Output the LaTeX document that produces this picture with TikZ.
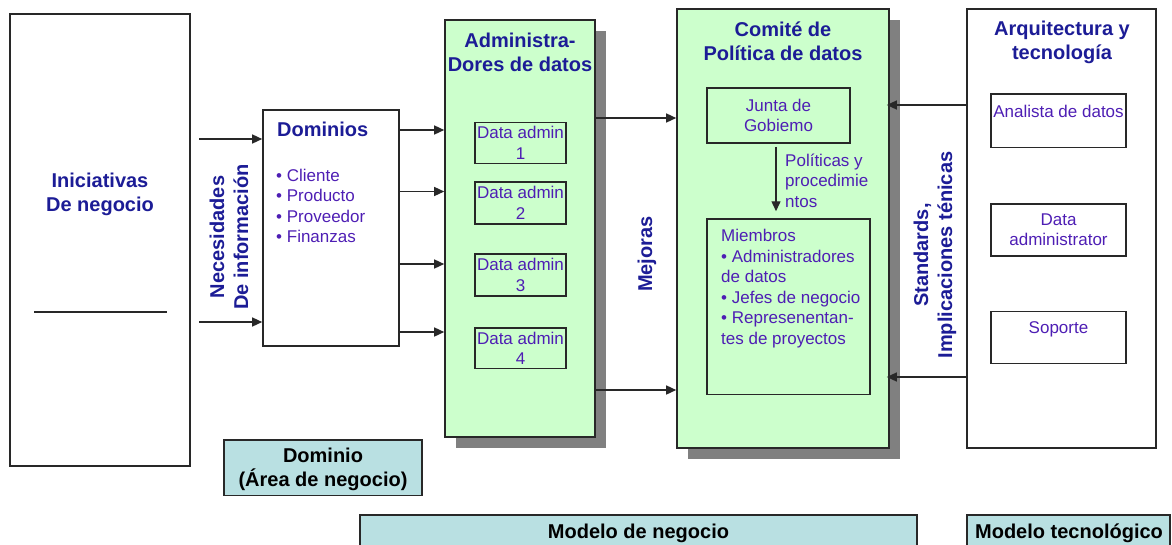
\documentclass[tikz,border=0pt]{standalone}
\usepackage{fontspec}
\setmainfont{Liberation Sans}
\usetikzlibrary{arrows.meta,shadows}
\definecolor{navy}{RGB}{28,28,150}
\definecolor{purp}{RGB}{78,30,180}
\definecolor{bord}{RGB}{40,40,40}
\definecolor{greenf}{RGB}{204,255,204}
\definecolor{shadowgray}{RGB}{128,128,128}
\definecolor{lblue}{RGB}{185,224,226}
\begin{document}
\begin{tikzpicture}[x=1pt,y=-1pt,
  bx/.style={draw=bord, line width=1.6pt, rectangle, inner sep=0pt},
  grn/.style={bx, fill=greenf, drop shadow={shadow xshift=11pt, shadow yshift=-10.5pt, fill=shadowgray, opacity=1}},
  lbl/.style={bx, fill=lblue},
  ttl/.style={font=\fontsize{20}{24}\selectfont\bfseries, text=navy, align=center, inner sep=0pt},
  blk/.style={font=\fontsize{20}{24}\selectfont\bfseries, text=black, align=center, inner sep=0pt},
  txt/.style={font=\fontsize{17}{20.6}\selectfont, text=purp, inner sep=0pt},
  arr/.style={draw=bord, line width=1.4pt, -{Triangle[length=10pt,width=9pt]}}
]
\useasboundingbox (0,0) rectangle (1172,544);

% Iniciativas
\node[bx, minimum width=180pt, minimum height=452pt] (ini) at (100,240) {};
\node[ttl] (initxt) at (100,194) {Iniciativas\\De negocio};
\draw[draw=bord, line width=1.4pt] (34,312) -- (167,312);

% Dominios
\node[bx, minimum width=136pt, minimum height=236pt] (dom) at (331,228) {};
\node[ttl, anchor=west] (domtit) at (277,129.4) {Dominios};
\node[txt, anchor=west, align=left] (domlist) at (276,206) {• Cliente\\• Producto\\• Proveedor\\• Finanzas};

\node[ttl, rotate=90] (neces) at (229,237) {Necesidades\\De información};

\coordinate (in1) at (199,139);
\coordinate (in2) at (199,322);
\draw[arr] (in1) -- (in1 -| dom.west);
\draw[arr] (in2) -- (in2 -| dom.west);

% Administradores
\node[grn, minimum width=150pt, minimum height=417pt] (adm) at (520,228.5) {};
\node[ttl] (admtit) at (520,52) {Administra-\\Dores de datos};
\node[bx, txt, align=center, minimum width=91pt, minimum height=41pt] (da1) at (520.5,143) {Data admin\\1};
\node[bx, txt, align=center, minimum width=91pt, minimum height=42pt] (da2) at (520.5,202.8) {Data admin\\2};
\node[bx, txt, align=center, minimum width=91pt, minimum height=42pt] (da3) at (520.5,275) {Data admin\\3};
\node[bx, txt, align=center, minimum width=91pt, minimum height=40.5pt] (da4) at (520.5,348.2) {Data admin\\4};

\coordinate (o1) at (0,130);
\coordinate (o2) at (0,191.5);
\coordinate (o3) at (0,264);
\coordinate (o4) at (0,332);
\foreach \c in {o1,o2,o3,o4}{
  \draw[arr] (dom.east |- \c) -- (adm.west |- \c);
}

% Mejoras
\node[ttl, rotate=90] (mej) at (647,254) {Mejoras};
\coordinate (m1) at (0,118);
\coordinate (m2) at (0,390);

% Comite
\node[grn, minimum width=212pt, minimum height=439pt] (com) at (783,228.5) {};
\node[ttl] (comtit) at (783,41) {Comité de\\Política de datos};
\node[bx, txt, align=center, minimum width=143pt, minimum height=55pt] (junta) at (778.5,115.5) {Junta de\\Gobiemo};
\node[bx, minimum width=163pt, minimum height=175.5pt] (miem) at (788.5,306.8) {};
\node[txt, anchor=west, align=left] (miemtxt) at (721,288.5) {Miembros\\• Administradores\\de datos\\• Jefes de negocio\\• Represenentan-\\tes de proyectos};
\draw[arr] ([xshift=-2.5pt,yshift=-3pt]junta.south) -- ([xshift=-12.5pt,yshift=7pt]miem.north);
\node[txt, anchor=west, align=left] (polit) at (785,180.5) {Políticas y\\procedimie\\ntos};

\draw[arr] (adm.east |- m1) -- (com.west |- m1);
\draw[arr] (adm.east |- m2) -- (com.west |- m2);

% Arquitectura
\node[bx, minimum width=189pt, minimum height=439pt] (arq) at (1061.5,228.5) {};
\node[ttl] (arqtit) at (1062,42) {Arquitectura y\\tecnología};
\node[bx, minimum width=135pt, minimum height=53.8pt] (ana) at (1058.5,120.6) {};
\node[txt] (anatxt) at (1058.5,111.7) {Analista de datos};
\node[bx, txt, align=center, minimum width=135pt, minimum height=52.3pt] (dadm) at (1058.5,229.9) {Data\\administrator};
\node[bx, minimum width=135pt, minimum height=52pt] (sop) at (1058.5,337.6) {};
\node[txt] (soptxt) at (1058.5,329.6) {Soporte};

\coordinate (s1) at (0,105);
\coordinate (s2) at (0,377);
\draw[arr, shorten >=-3pt] (arq.west |- s1) -- (com.east |- s1);
\draw[arr, shorten >=-3pt] (arq.west |- s2) -- (com.east |- s2);

\node[ttl, rotate=90] (stand) at (935,255) {Standards,\\Implicaciones ténicas};

% bottom labels
\node[lbl, minimum width=198pt, minimum height=55.5pt] (domlbl) at (323,467.8) {};
\node[blk] (domlbltxt) at (323,469) {Dominio\\(Área de negocio)};
\node[lbl, minimum width=557pt, minimum height=40pt] (modneg) at (638.5,535) {};
\node[blk] (modnegtxt) at (638.5,533) {Modelo de negocio};
\node[lbl, minimum width=203pt, minimum height=40pt] (modtec) at (1068.5,535) {};
\node[blk] (modtectxt) at (1069,533) {Modelo tecnológico};
\end{tikzpicture}
\end{document}
